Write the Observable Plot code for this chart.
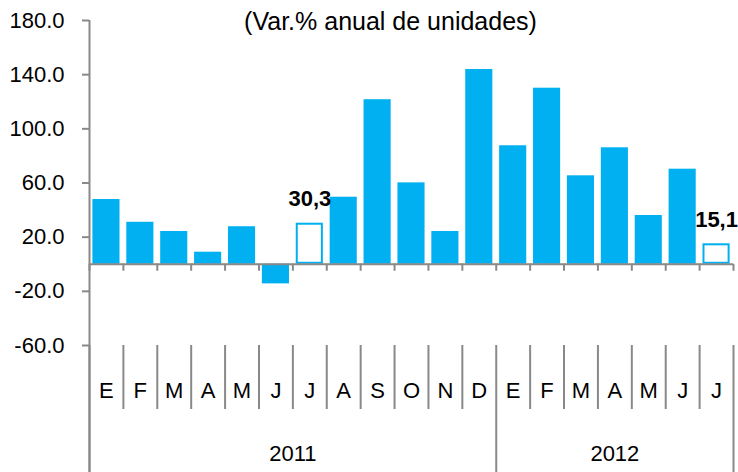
<!DOCTYPE html>
<html>
<head>
<meta charset="utf-8">
<script src="https://cdn.jsdelivr.net/npm/d3@7"></script>
<script src="https://cdn.jsdelivr.net/npm/@observablehq/plot@0.6"></script>
<style>
  html, body { margin: 0; padding: 0; background: #fff; }
  #chart { width: 738px; height: 472px; }
</style>
</head>
<body>
<div id="chart"></div>
<script>
const title = "(Var.% anual de unidades)";
const months = ["E","F","M","A","M","J","J","A","S","O","N","D","E","F","M","A","M","J","J"];
const years  = [2011,2011,2011,2011,2011,2011,2011,2011,2011,2011,2011,2011,2012,2012,2012,2012,2012,2012,2012];
const values = [47.8, 31.0, 24.2, 8.9, 27.7, -14.5, 30.3, 49.5, 121.5, 60.1, 24.2, 143.8, 87.5, 130.0, 65.3, 86.0, 36.0, 70.2, 15.1];
const highlighted = [false,false,false,false,false,false,true,false,false,false,false,false,false,false,false,false,false,false,true];
const yTicks = [-60, -20, 20, 60, 100, 140, 180];

const blue = "#00B0F0";
const gray = "#898989";

const data = months.map((m, i) => ({i, month: m, year: years[i], value: values[i], hl: highlighted[i]}));
const n = data.length;
const boundaries = d3.range(n + 1);
const yearBounds = boundaries.filter(b => b === 0 || b === n || years[b] !== years[b - 1]);
const monthBounds = boundaries.filter(b => !yearBounds.includes(b));
const yearLabels = Array.from(d3.group(data, d => d.year), ([year, rows]) => ({
  year: String(year),
  x: (d3.min(rows, r => r.i) + d3.max(rows, r => r.i) + 1) / 2
}));
const fmt = v => v.toFixed(1).replace(".", ",");

const plot = Plot.plot({
  width: 738,
  height: 472,
  marginLeft: 89,
  marginRight: 5,
  marginTop: 20,
  marginBottom: 127,
  style: {fontFamily: "'Liberation Sans', Arial, sans-serif", color: "#000", background: "#fff", overflow: "visible"},
  x: {type: "linear", domain: [0, n], axis: null},
  y: {domain: [-60, 180], axis: null},
  marks: [
    // filled bars
    Plot.rectY(data.filter(d => !d.hl), {x1: d => d.i + 0.1, x2: d => d.i + 0.9, y1: 0, y2: "value", fill: blue}),
    // outlined (latest) bars
    Plot.rectY(data.filter(d => d.hl), {x1: d => d.i + 0.1, x2: d => d.i + 0.9, y1: 0, y2: "value", fill: "#fff", stroke: blue, strokeWidth: 2, inset: 1}),
    // zero line
    Plot.ruleY([0], {stroke: gray, strokeWidth: 2}),
    // ticks on zero line
    Plot.ruleX(boundaries, {x: d => d, y1: 0, y2: 0, insetBottom: -7, stroke: gray, strokeWidth: 2}),
    // y axis line (extends down through category axis)
    Plot.ruleX([0], {x: d => d, y1: 180, y2: -60, insetBottom: -127, stroke: gray, strokeWidth: 2}),
    // y ticks + labels
    Plot.axisY(yTicks, {anchor: "left", label: null, tickSize: 7, tickPadding: 18, tickFormat: d => d.toFixed(1), fontSize: 22, stroke: gray, strokeWidth: 2, fill: "#000"}),
    // month separators
    Plot.ruleX(monthBounds, {x: d => d, y1: -60, y2: -60, insetBottom: -64, stroke: gray, strokeWidth: 2}),
    // year separators
    Plot.ruleX(yearBounds, {x: d => d, y1: -60, y2: -60, insetBottom: -127, stroke: gray, strokeWidth: 2}),
    // month labels
    Plot.text(data, {x: d => d.i + 0.5, y: -60, text: "month", dy: 45, fontSize: 22, fill: "#000", lineAnchor: "middle"}),
    // year labels
    Plot.text(yearLabels, {x: "x", y: -60, text: "year", dy: 108, fontSize: 22, fill: "#000", lineAnchor: "middle"}),
    // value labels for highlighted bars
    Plot.text(data.filter(d => d.hl), {x: d => d.i + 0.5, y: "value", text: d => fmt(d.value), dy: -24, fontSize: 22, fontWeight: "bold", fill: "#000", lineAnchor: "middle"}),
    // title
    Plot.text([title], {frameAnchor: "top", dx: -21, dy: 1, fontSize: 25, fill: "#000", lineAnchor: "middle"})
  ]
});
document.getElementById("chart").appendChild(plot);
</script>
</body>
</html>
